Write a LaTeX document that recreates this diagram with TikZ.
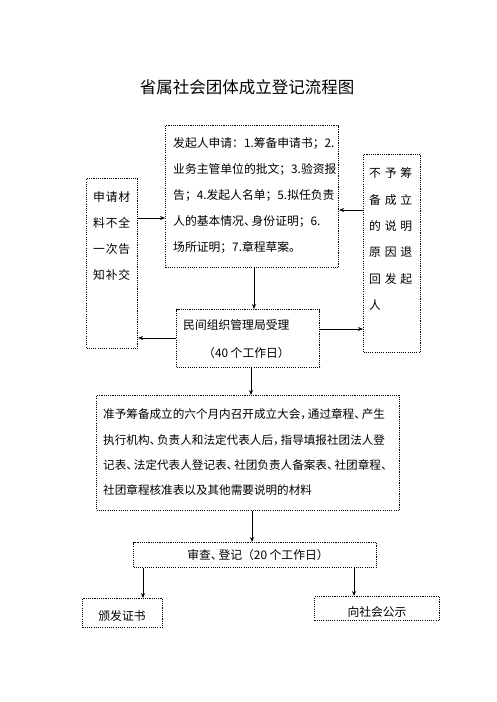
\documentclass[tikz,border=0pt]{standalone}
\usepackage{fontspec}
\setmainfont{Noto Sans CJK SC}
\usetikzlibrary{arrows.meta}
\newcommand\pdn{\makebox[0.65em][l]{、}}
\newcommand\pcm{\makebox[0.65em][l]{，}}
\begin{document}
\begin{tikzpicture}[x=1pt,y=-1pt,
  box/.style={draw, line width=1.1pt, dash pattern=on 1.1pt off 1.1pt, inner sep=0pt, anchor=north west},
  txt/.style={inner sep=0pt, anchor=north west, align=left, font=\fontsize{11.8}{26}\selectfont},
  arr/.style={line width=0.9pt, -{Stealth[length=5pt,width=4pt]}}]
\useasboundingbox (0,0) rectangle (496,702);
% title
\node[inner sep=0pt, font=\fontsize{16.5}{20}\selectfont] (title) at (247,87) {省属社会团体成立登记流程图};
% boxes
\node[box, minimum width=173pt, minimum height=142pt] (b1) at (165,125) {};
\node[box, minimum width=51pt, minimum height=170pt] (lb) at (86,178) {};
\node[box, minimum width=57pt, minimum height=198pt] (rb) at (363,154) {};
\node[box, minimum width=143pt, minimum height=58pt] (b2) at (176,309) {};
\node[box, minimum width=303pt, minimum height=115pt] (b3) at (96,395) {};
\node[box, minimum width=243pt, minimum height=25pt] (b4) at (133,542) {};
\node[box, minimum width=80pt, minimum height=29pt] (b5) at (82,598) {};
\node[box, minimum width=125pt, minimum height=24pt] (b6) at (314,596) {};
% texts
\node[txt] (t1) at (173,137.6) {发起人申请：1.筹备申请书；2.\\业务主管单位的批文；3.验资报\\告；4.发起人名单；5.拟任负责\\人的基本情况\pdn 身份证明；6.\\场所证明；7.章程草案。};
\node[txt] (tl) at (93,191.6) {\makebox[37pt][s]{申\hfill 请\hfill 材}\\\makebox[37pt][s]{料\hfill 不\hfill 全}\\\makebox[37pt][s]{一\hfill 次\hfill 告}\\\makebox[37pt][s]{知\hfill 补\hfill 交}};
\node[txt, font=\fontsize{11.8}{26.4}\selectfont] (tr) at (369,167.6) {\makebox[43pt][s]{不\hfill 予\hfill 筹}\\\makebox[43pt][s]{备\hfill 成\hfill 立}\\\makebox[43pt][s]{的\hfill 说\hfill 明}\\\makebox[43pt][s]{原\hfill 因\hfill 退}\\\makebox[43pt][s]{回\hfill 发\hfill 起}\\人};
\node[txt, font=\fontsize{11.8}{28}\selectfont] (t2) at (183,319.6) {民间组织管理局受理\\\hspace*{20pt}（40 个工作日）};
\node[txt, font=\fontsize{11.6}{25.3}\selectfont] (t3) at (103,408.7) {准予筹备成立的六个月内召开成立大会\pcm 通过章程\pdn 产生\\执行机构\pdn 负责人和法定代表人后\pcm 指导填报社团法人登\\记表\pdn 法定代表人登记表\pdn 社团负责人备案表\pdn 社团章程\pdn\\社团章程核准表以及其他需要说明的材料};
\node[inner sep=0pt, font=\fontsize{11.8}{14}\selectfont] (t4) at (258,555) {审查\pdn 登记（20 个工作日）};
\node[inner sep=0pt, font=\fontsize{11.8}{14}\selectfont] (t5) at (122,616) {颁发证书};
\node[inner sep=0pt, font=\fontsize{11.8}{14}\selectfont] (t6) at (377,612) {向社会公示};
% arrows
\draw[arr] (lb.east |- 0,218) -- (b1.west |- 0,218);
\draw[arr] (rb.west |- 0,210) -- (b1.east |- 0,210);
\draw[arr] (b1.south -| 254,0) -- (b2.north -| 254,0);
\draw[arr] (b2.west |- 0,338) -- (lb.east |- 0,338);
\draw[arr] (b2.east |- 0,329) -- (rb.west |- 0,329);
\draw[arr] (b2.south -| 251,0) -- (b3.north -| 251,0);
\draw[arr] (b3.south -| 252,0) -- (b4.north -| 252,0);
\draw[arr] (b4.south -| 143,0) -- (b5.north -| 143,0);
\draw[arr] (b4.south -| 354,0) -- (b6.north -| 354,0);
\end{tikzpicture}
\end{document}
